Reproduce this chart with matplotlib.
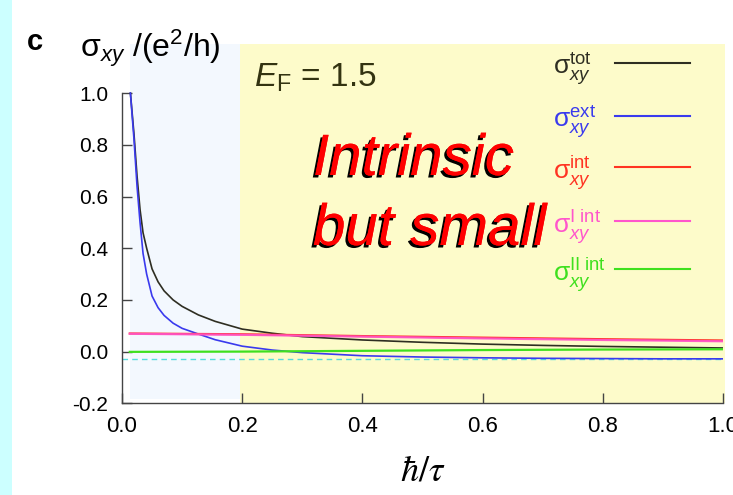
import matplotlib
matplotlib.use("Agg")
import matplotlib.pyplot as plt
import matplotlib.patheffects as pe
from matplotlib.patches import Rectangle
from matplotlib.lines import Line2D

plt.rcParams["font.family"] = ["Liberation Sans", "DejaVu Sans"]
plt.rcParams["mathtext.fontset"] = "custom"
plt.rcParams["mathtext.rm"] = "Liberation Sans"
plt.rcParams["mathtext.it"] = "Liberation Sans:italic"
plt.rcParams["mathtext.bf"] = "Liberation Sans:bold"

# ── data ───────────────────────────────────────────────────────────────────
x_steep = [0.014, 0.02, 0.025, 0.03, 0.035, 0.041, 0.05, 0.06, 0.07, 0.085,
           0.1, 0.127, 0.155, 0.2, 0.25, 0.3, 0.4, 0.5, 0.6, 0.7, 0.8, 0.9, 1.0]
sig_tot = [1.0, 0.84, 0.68, 0.55, 0.46, 0.40, 0.32, 0.27, 0.235, 0.20,
           0.175, 0.142, 0.117, 0.087, 0.071, 0.058, 0.045, 0.036, 0.029,
           0.024, 0.020, 0.017, 0.014]
sig_ext = [1.0, 0.82, 0.64, 0.50, 0.38, 0.30, 0.215, 0.17, 0.14, 0.11,
           0.090, 0.068, 0.046, 0.021, 0.006, -0.004, -0.016, -0.021, -0.024,
           -0.026, -0.027, -0.028, -0.028]

x_flat = [0.013, 0.2, 0.4, 0.6, 0.8, 1.0]
sig_int = [0.070, 0.067, 0.060, 0.054, 0.048, 0.043]
sig_int1 = [0.069, 0.065, 0.058, 0.051, 0.045, 0.040]
sig_int2 = [-0.001, 0.0, 0.003, 0.006, 0.008, 0.009]

x_ref = [0.0, 1.0]
sig_ref = [-0.028, -0.028]

labels = [r"σ$_{xy}^{\mathrm{tot}}$", r"σ$_{xy}^{\mathrm{ext}}$",
          r"σ$_{xy}^{\mathrm{int}}$", r"σ$_{xy}^{\mathrm{I\ int}}$",
          r"σ$_{xy}^{\mathrm{II\ int}}$"]
colors = ["#2e2e22", "#3a3aee", "#ff3322", "#ff55cc", "#3ee01e"]

xticks = [0.0, 0.2, 0.4, 0.6, 0.8, 1.0]
yticks = [-0.2, 0.0, 0.2, 0.4, 0.6, 0.8, 1.0]

W, H = 733, 495

# ── figure ─────────────────────────────────────────────────────────────────
fig = plt.figure(figsize=(W/100, H/100), dpi=100)
fig.patch.set_facecolor("white")
fig.add_artist(Rectangle((0, 0), 12/W, 1, transform=fig.transFigure,
                         color="#ccffff", lw=0, zorder=0))

ax = fig.add_axes([122/W, 91.7/H, 601/W, 451/H - 91.7/H])
ax.set_xlim(0, 1.0)
ax.set_ylim(-0.2, 1.19)
ax.patch.set_alpha(0)

# shaded regimes
ax.fill_between([0.013, 0.196], -0.185, 1.19, color="#f3f8fe", lw=0, zorder=0)
ax.fill_between([0.196, 1.004], -0.2, 1.19, color="#fdfbca", lw=0, zorder=0,
                clip_on=False)

ax.plot(x_ref, sig_ref, color="#55dddd", lw=1.0, ls=(0, (4, 3)), zorder=2)
ax.plot(x_steep, sig_tot, color=colors[0], lw=1.2, zorder=3)
ax.plot(x_steep, sig_ext, color=colors[1], lw=1.2, zorder=3)
ax.plot(x_flat, sig_int2, color=colors[4], lw=1.6, zorder=3)
ax.plot(x_flat, sig_int, color=colors[2], lw=1.6, zorder=4)
ax.plot(x_flat, sig_int1, color=colors[3], lw=1.6, zorder=4, alpha=0.9)

for s in ("top", "right"):
    ax.spines[s].set_visible(False)
ax.spines["left"].set_bounds(-0.2, 1.0)
for s in ("left", "bottom"):
    ax.spines[s].set_color("#444444")
    ax.spines[s].set_linewidth(1.0)

ax.set_xticks(xticks)
ax.set_xticklabels([f"{v:.1f}" for v in xticks], fontsize=16)
ax.set_yticks(yticks)
ax.set_yticklabels([f"{v:.1f}" for v in yticks], fontsize=15)
ax.tick_params(axis="both", direction="in", length=7, width=1, color="#444444")
ax.tick_params(axis="y", pad=10)
ax.tick_params(axis="x", pad=9)

ax.set_xlabel(r"$\hbar/\tau$", fontsize=26, math_fontfamily="stix", labelpad=12)

# legend: label on the left, line sample on the right
row_y = [63, 116, 167, 221, 269]
for lab, c, yy in zip(labels, colors, row_y):
    fig.text(553/W, 1 - (yy + 12)/H, lab, fontsize=19, color=c, va="baseline")
    fig.add_artist(Line2D([615/W, 690/W], [1 - yy/H, 1 - yy/H], color=c,
                          lw=1.5, transform=fig.transFigure))

# annotations
fig.text(27/W, 1 - 50/H, "c", fontsize=21, fontweight="bold")
fig.text(80/W, 1 - 57/H, r"σ$_{xy}$ /(e$^2$/h)", fontsize=23)
fig.text(254/W, 1 - 87/H, r"$E_{\mathrm{F}}$ = 1.5", fontsize=24,
         color="#333311")

shadow = [pe.withSimplePatchShadow(offset=(-1.8, -1.8), shadow_rgbFace="black",
                                   alpha=1.0), pe.Normal()]
fig.text(313/W, 1 - 175/H, "Intrinsic", fontsize=42, style="italic",
         color="red", path_effects=shadow)
fig.text(313/W, 1 - 245/H, "but small", fontsize=42, style="italic",
         color="red", path_effects=shadow)

fig.savefig("out.png", dpi=100)
